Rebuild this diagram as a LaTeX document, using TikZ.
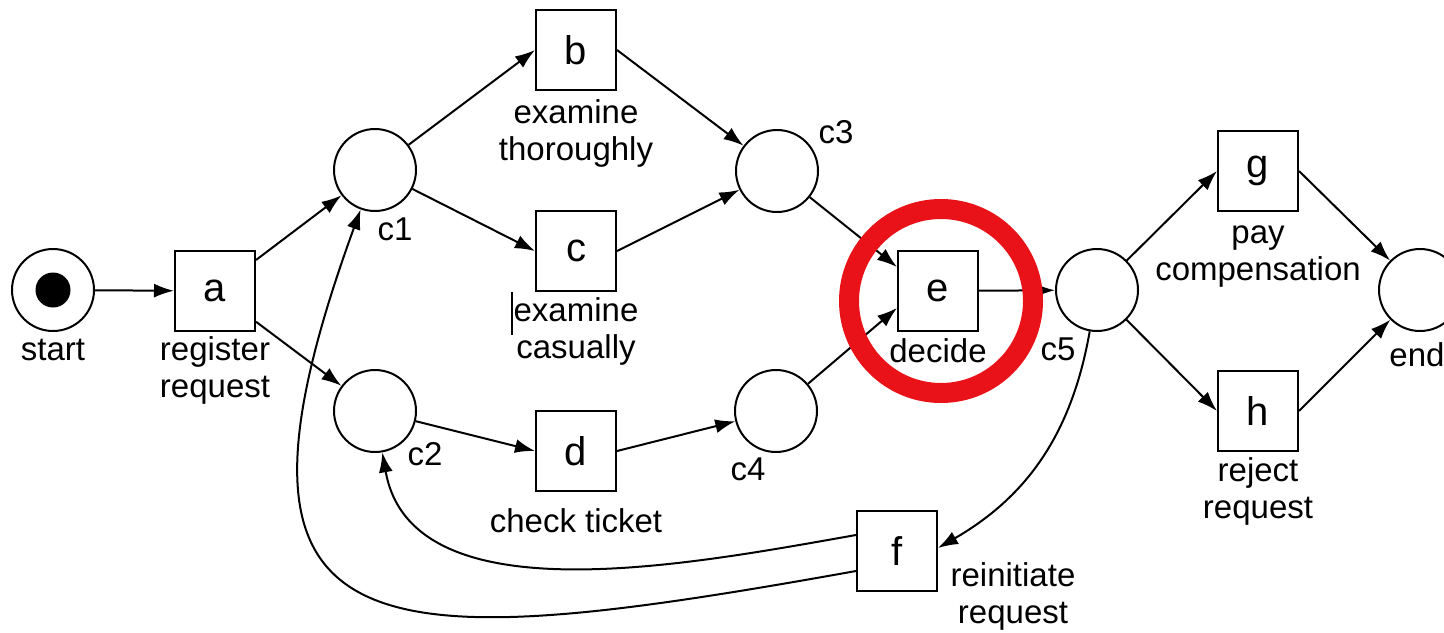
\documentclass[tikz,border=0pt]{standalone}
\usepackage{fontspec}
\setmainfont{Liberation Sans}
\usetikzlibrary{arrows.meta}
\definecolor{ringred}{RGB}{232,18,24}
\begin{document}
\begin{tikzpicture}[x=0.5pt,y=-0.5pt,
  place/.style={circle,draw,line width=1pt,minimum size=41pt,inner sep=0pt},
  trans/.style={rectangle,draw,line width=1pt,minimum width=40pt,minimum height=40pt,inner sep=0pt,font=\fontsize{20}{24}\selectfont},
  lbl/.style={inner sep=0pt,anchor=base,align=center,font=\fontsize{16.5}{18.5}\selectfont},
  arc/.style={line width=1pt,-{Latex[length=10pt,width=7pt]}},
  token/.style={circle,fill=black,minimum size=17.5pt,inner sep=0pt},
  ring/.style={circle,draw=ringred,line width=10pt,minimum size=92pt,inner sep=0pt}]
\fill[white] (0,0) rectangle (1444,632);
\useasboundingbox (0,0) rectangle (1444,632);

% places
\node[place] (start) at (53,290) {};
\node[token] (tok) at (start) {};
\node[place] (c1) at (375,170) {};
\node[place] (c2) at (375,411) {};
\node[place] (c3) at (777,171) {};
\node[place] (c4) at (776,411) {};
\node[place] (c5) at (1097,290) {};
\node[place] (end) at (1420,290) {};

% transitions
\node[trans] (a) at (215,291) {a};
\node[trans] (b) at (576,50) {b};
\node[trans] (c) at (576,251) {c};
\node[trans] (d) at (576,451) {d};
\node[trans] (e) at (938,291) {e};
\node[trans] (f) at (897,551) {f};
\node[trans] (g) at (1258,171) {g};
\node[trans] (h) at (1258,411) {h};

% labels (base = baseline of last line)
\node[lbl] (lstart) at (53,360) {start};
\node[lbl] (la) at (215,397) {register\\request};
\node[lbl] (lb) at (576,160) {examine\\thoroughly};
\node[lbl] (lc) at (576,358) {examine\\casually};
\node[lbl] (ld) at (576,532) {check ticket};
\node[lbl] (le) at (938,362) {decide};
\node[lbl] (lf) at (1013,623) {reinitiate\\request};
\node[lbl] (lg) at (1258,280) {pay\\compensation};
\node[lbl] (lh) at (1258,518) {reject\\request};
\node[lbl] (lend) at (1417,366) {end};
\node[lbl] (lc1) at (395,240) {c1};
\node[lbl] (lc2) at (425,465) {c2};
\node[lbl] (lc3) at (836,143) {c3};
\node[lbl] (lc4) at (748,480) {c4};
\node[lbl] (lc5) at (1058,360) {c5};

% cursor mark
\draw[line width=0.7pt] (512,292) -- (512,335);

% arcs
\draw[arc] (start) -- (a);
\draw[arc] (a) -- (c1);
\draw[arc] (a) -- (c2);
\draw[arc] (c1) -- (b.west);
\draw[arc] (c1) -- (c.west);
\draw[arc] (b.east) -- (c3);
\draw[arc] (c.east) -- (c3);
\draw[arc] (c2) -- (d.west);
\draw[arc] (d.east) -- (c4);
\draw[arc] (c3) -- ([yshift=12pt]e.west);
\draw[arc] (c4) -- ([yshift=-8.5pt]e.west);
\draw[arc] (e) -- (c5);
\draw[arc] (c5) -- (g.west);
\draw[arc] (c5) -- (h.west);
\draw[arc] (g.east) -- (end);
\draw[arc] (h.east) -- (end);
\draw[arc] (c5) to[out=-100,in=30] ([yshift=1.5pt]f.east);
\draw[arc] ([yshift=8pt]f.west) to[out=190,in=-80,looseness=0.9] (c2);
\draw[arc] ([yshift=-10pt]f.west) .. controls (365,659) and (197,659) .. (c1);

% highlight ring
\node[ring] (hl) at (941,301) {};
\end{tikzpicture}
\end{document}
